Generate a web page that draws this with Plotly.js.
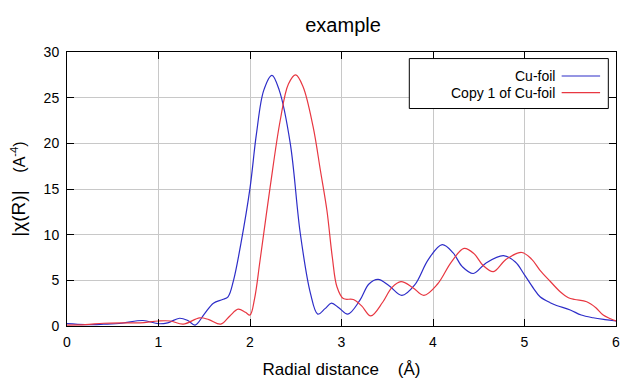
<!DOCTYPE html>
<html>
<head>
<meta charset="utf-8">
<script src="https://cdn.plot.ly/plotly-3.0.1.min.js"></script>
<style>html,body{margin:0;padding:0;background:#fff}#chart{width:640px;height:384px}</style>
</head>
<body>
<div id="chart"></div>
<script>
var seriesNames = ["Cu-foil", "Copy 1 of Cu-foil"];
var blueX = [0.0,0.2,0.4,0.6,0.83,1.0,1.1,1.23,1.32,1.40,1.5,1.6,1.7,1.76,1.82,1.9,2.0,2.07,2.15,2.24,2.32,2.44,2.55,2.66,2.74,2.82,2.89,2.97,3.07,3.2,3.30,3.40,3.52,3.66,3.8,3.95,4.10,4.22,4.32,4.44,4.58,4.77,4.9,5.0,5.1,5.17,5.28,5.35,5.5,5.62,5.75,5.88,6.0];
var blueY = [0.25,0.15,0.2,0.3,0.6,0.25,0.35,0.85,0.6,0.1,1.3,2.5,2.9,3.2,5.0,9.0,15.1,21.0,25.8,27.45,25.8,20.0,10.1,3.6,1.3,1.9,2.5,2.0,1.3,2.8,4.6,5.1,4.4,3.35,4.5,7.3,8.9,8.0,6.5,5.75,6.9,7.7,7.0,5.6,4.1,3.2,2.55,2.25,1.75,1.2,0.9,0.7,0.55];
var redX = [0.0,0.2,0.4,0.6,0.8,1.0,1.13,1.27,1.45,1.55,1.68,1.78,1.87,1.95,2.0,2.05,2.11,2.22,2.33,2.42,2.50,2.58,2.69,2.77,2.84,2.90,2.95,3.02,3.13,3.22,3.32,3.45,3.55,3.65,3.78,3.90,4.05,4.2,4.34,4.45,4.55,4.66,4.8,4.97,5.08,5.17,5.28,5.39,5.48,5.55,5.68,5.78,5.86,5.94,6.0];
var redY = [0.1,0.15,0.3,0.35,0.35,0.55,0.55,0.2,0.9,0.7,0.2,1.1,1.85,1.5,1.2,3.0,7.2,15.2,22.5,26.5,27.5,26.2,21.8,17.0,12.7,7.5,4.3,3.0,2.9,2.2,1.1,2.6,4.2,4.85,4.2,3.35,4.6,7.0,8.5,7.9,6.6,5.95,7.3,8.05,7.3,6.1,4.9,3.75,3.1,2.9,2.65,2.0,1.2,0.8,0.55];
var xTicks = [0,1,2,3,4,5,6];
var yTicks = [0,5,10,15,20,25,30];

var colors = ["rgb(45,45,200)", "rgb(232,55,65)"];
var font = "Liberation Sans, Arial, sans-serif";

var traces = [
  {x: blueX, y: blueY, name: seriesNames[0], mode: "lines", line: {color: colors[0], width: 1.2, shape: "spline", smoothing: 1}},
  {x: redX, y: redY, name: seriesNames[1], mode: "lines", line: {color: colors[1], width: 1.2, shape: "spline", smoothing: 1}}
];

var legRowY = [0.9125, 0.852];
var shapes = [{type: "rect", xref: "paper", yref: "paper", x0: 0.6235, x1: 0.986, y0: 0.7937, y1: 0.976, line: {color: "#000", width: 1}, fillcolor: "#fff", layer: "above"}];
var annotations = [];
seriesNames.forEach(function (n, i) {
  shapes.push({type: "line", xref: "paper", yref: "paper", x0: 0.901, x1: 0.971, y0: legRowY[i], y1: legRowY[i], line: {color: colors[i], width: 1.2}, layer: "above"});
  annotations.push({text: n, xref: "paper", yref: "paper", x: 0.893, y: legRowY[i], xanchor: "right", yanchor: "middle", showarrow: false, font: {family: font, size: 14, color: "#000"}});
});

var axisCommon = {
  showline: true, linecolor: "#000", linewidth: 1, mirror: "ticks",
  ticks: "inside", ticklen: 7, tickcolor: "#000", tickwidth: 1,
  showgrid: true, gridcolor: "#c8c8c8", gridwidth: 1, zeroline: false,
  tickfont: {family: font, size: 14, color: "#000"}
};

var layout = {
  width: 640, height: 384,
  margin: {l: 67, r: 24, t: 52, b: 58},
  paper_bgcolor: "#fff", plot_bgcolor: "#fff",
  showlegend: false,
  title: {text: "example", font: {family: font, size: 20, color: "#000"}, x: 0.536, xanchor: "center", y: 0.935, yanchor: "middle"},
  xaxis: Object.assign({}, axisCommon, {range: [0, 6], tickvals: xTicks, ticktext: xTicks.map(String), ticklabelstandoff: 3,
    title: {text: "Radial distance\u00a0\u00a0\u00a0\u00a0(Å)", font: {family: font, size: 17, color: "#000"}, standoff: 14}}),
  yaxis: Object.assign({}, axisCommon, {range: [0, 30], tickvals: yTicks, ticktext: yTicks.map(String), ticklabelstandoff: 4,
    title: {text: "<span style='font-size:19px'>|χ(R)|</span>\u00a0\u00a0\u00a0\u00a0(A<sup>-4</sup>)", font: {family: font, size: 16, color: "#000"}, standoff: 14}}),
  shapes: shapes,
  annotations: annotations
};

Plotly.newPlot("chart", traces, layout, {staticPlot: true});
</script>
</body>
</html>
